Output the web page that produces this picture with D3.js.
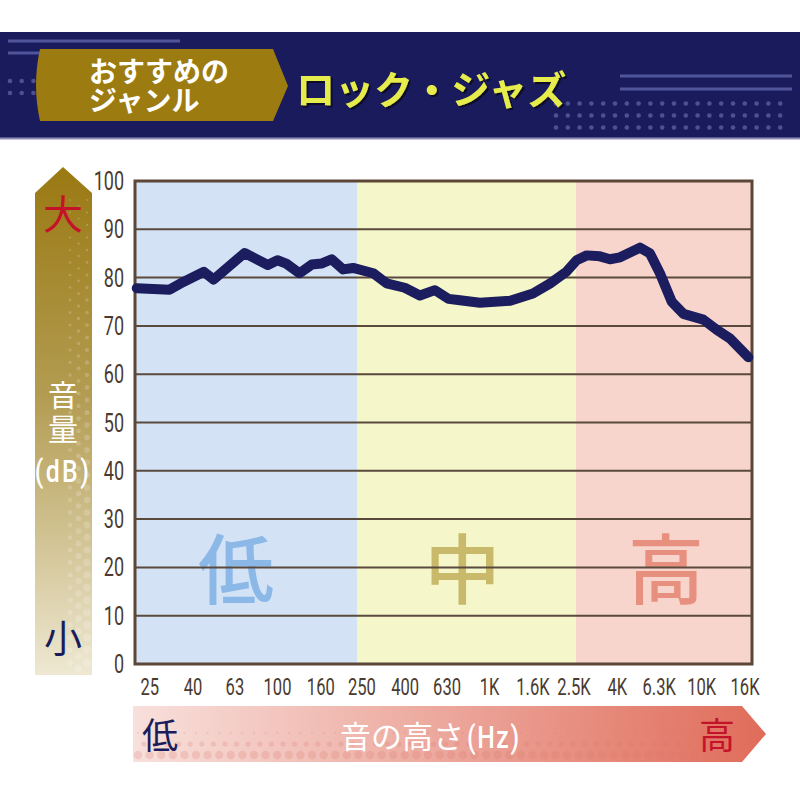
<!DOCTYPE html>
<html>
<head>
<meta charset="utf-8">
<script src="https://cdn.jsdelivr.net/npm/d3@7"></script>
<style>
  body { margin: 0; background: #fff; }
  svg { display: block; }
</style>
</head>
<body>
<script>
var freqs = [21.7, 31, 36, 45, 50, 70, 90, 100, 110, 127, 145, 161, 180, 204, 227, 283, 327, 398, 469, 552,
             640, 725, 900, 1250, 1600, 1930, 2300, 2570, 2870, 3310, 3690, 4120, 5110, 5700, 6350, 7220,
             8190, 10170, 11760, 13590, 16580];
var levels = [77.8, 77.5, 79.1, 81.2, 79.6, 85.1, 82.6, 83.6, 82.9, 80.9, 82.7, 82.9, 83.8, 81.7, 82.0, 80.9,
              78.8, 77.9, 76.3, 77.4, 75.6, 75.3, 74.8, 75.2, 76.7, 78.8, 81.2, 83.6, 84.6, 84.4, 83.8, 84.2,
              86.2, 85.0, 80.9, 75.0, 72.5, 71.3, 69.2, 67.4, 63.5];

//axis ticks
var xTicks = [25, 40, 63, 100, 160, 250, 400, 630, 1000, 1600, 2500, 4000, 6300, 10000, 16000];
var xTickLabels = ["25", "40", "63", "100", "160", "250", "400", "630", "1K", "1.6K", "2.5K", "4K", "6.3K", "10K", "16K"];
var yTicks = [0, 10, 20, 30, 40, 50, 60, 70, 80, 90, 100];

//frequency bands (low / mid / high)
var bandNames = ["低", "中", "高"];
var bandEdges = [21.3, 237, 2550, 17250];

//texts
var tagLines = ["おすすめの", "ジャンル"];
var genre = "ロック・ジャズ";

var width = 800, height = 800;
var jp = "'Noto Sans CJK JP', sans-serif";
var num = "Roboto, sans-serif";

var svg = d3.select("body").append("svg")
    .attr("width", width)
    .attr("height", height);

var defs = svg.append("defs");

//gradients for the two arrows
var gv = defs.append("linearGradient").attr("id", "gradV")
    .attr("x1", 0).attr("y1", 0).attr("x2", 0).attr("y2", 1);
gv.append("stop").attr("offset", "0%").attr("stop-color", "#9a7912");
gv.append("stop").attr("offset", "45%").attr("stop-color", "#b39c52");
gv.append("stop").attr("offset", "100%").attr("stop-color", "#eee8d2");

var gh = defs.append("linearGradient").attr("id", "gradH")
    .attr("x1", 0).attr("y1", 0).attr("x2", 1).attr("y2", 0);
gh.append("stop").attr("offset", "0%").attr("stop-color", "#f8e0dc");
gh.append("stop").attr("offset", "100%").attr("stop-color", "#e06c5a");

//dark shadow behind the genre title
defs.append("filter").attr("id", "shadow")
    .attr("x", "-5%").attr("y", "-10%").attr("width", "115%").attr("height", "130%")
  .append("feDropShadow")
    .attr("dx", 2).attr("dy", 2).attr("stdDeviation", 0.4)
    .attr("flood-color", "#08082a").attr("flood-opacity", 1);

drawHeader();
drawChart();

function drawHeader(){
  var g = svg.append("g").attr("class", "header");

  g.append("rect")
      .attr("x", 0).attr("y", 32)
      .attr("width", width).attr("height", 107)
      .attr("fill", "#1a1b5c");
  g.append("rect")
      .attr("x", 0).attr("y", 137.5)
      .attr("width", width).attr("height", 2)
      .attr("fill", "#8e8fb8");

  //decorative stripes
  var stripes = [[8, 180, 41], [8, 60, 53], [620, 792, 76], [620, 792, 89]];
  g.selectAll(".stripe")
      .data(stripes)
      .enter()
      .append("line")
      .attr("class", "stripe")
      .attr("x1", function(d){ return d[0]; })
      .attr("x2", function(d){ return d[1]; })
      .attr("y1", function(d){ return d[2]; })
      .attr("y2", function(d){ return d[2]; })
      .attr("stroke", "#50549a")
      .attr("stroke-width", 3);

  //decorative dots
  var dots = [];
  [81, 93].forEach(function(y){
    d3.range(3).forEach(function(i){ dots.push([10 + i * 11.7, y]); });
  });
  [103.5, 115.5, 127.5].forEach(function(y){
    d3.range(20).forEach(function(i){ dots.push([556 + i * 11.8, y]); });
  });
  g.selectAll(".dot")
      .data(dots)
      .enter()
      .append("circle")
      .attr("class", "dot")
      .attr("cx", function(d){ return d[0]; })
      .attr("cy", function(d){ return d[1]; })
      .attr("r", 2.3)
      .attr("fill", "#4d5191");

  //gold tag
  g.append("path")
      .attr("d", "M40,49 L273,49 L288,86 L273,121 L40,121 Q32,85 40,49 Z")
      .attr("fill", "#9c7c10");

  //two-line tag as one text block
  g.append("text")
      .attr("class", "tag")
      .attr("font-family", jp)
      .attr("font-weight", "bold")
      .attr("font-size", 28)
      .attr("fill", "#fff")
    .selectAll("tspan")
      .data(tagLines)
      .enter()
      .append("tspan")
      .attr("x", 89)
      .attr("y", function(d, i){ return 82 + i * 29; })
      .text(function(d){ return d; });

  g.append("text")
      .attr("x", 296).attr("y", 104)
      .attr("font-family", jp).attr("font-weight", "bold").attr("font-size", 39)
      .attr("fill", "#e6ec4c")
      .attr("filter", "url(#shadow)")
      .text(genre);
}

function drawChart(){
  var x = d3.scaleLog()
      .domain([bandEdges[0], bandEdges[3]])
      .range([135, 752]);
  var y = d3.scaleLinear()
      .domain([0, 100])
      .range([664, 181]);

  var bandFill = d3.scaleOrdinal().domain(bandNames).range(["#d3e3f5", "#f5f7cb", "#f7d5cd"]);
  var bandInk = d3.scaleOrdinal().domain(bandNames).range(["#8cb8e8", "#c9b96a", "#e8907f"]);

  //left arrow (volume)
  var la = svg.append("g").attr("class", "leftArrow");
  la.append("path")
      .attr("d", "M35,193 L63,167 L92,193 L92,675 L35,675 Z")
      .attr("fill", "url(#gradV)");
  var ldots = [];
  d3.range(38).forEach(function(r){
    d3.range(3).forEach(function(c){
      var yy = 200 + r * 12.5 + (c % 2) * 6;
      ldots.push([70 + c * 8.5, yy, 1 + 3.2 * (r / 38) * (0.6 + c * 0.25)]);
    });
  });
  la.selectAll(".ldot")
      .data(ldots)
      .enter()
      .append("circle")
      .attr("cx", function(d){ return d[0]; })
      .attr("cy", function(d){ return d[1]; })
      .attr("r", function(d){ return d[2]; })
      .attr("fill", "#fff")
      .attr("opacity", 0.18);
  la.append("text")
      .attr("x", 63).attr("y", 229)
      .attr("text-anchor", "middle")
      .attr("font-family", jp).attr("font-size", 40)
      .attr("fill", "#c4122a")
      .text("大");
  la.append("text")
      .attr("x", 63).attr("y", 652)
      .attr("text-anchor", "middle")
      .attr("font-family", jp).attr("font-size", 38)
      .attr("fill", "#1a1d5c")
      .text("小");
  la.append("text")
      .attr("text-anchor", "middle")
      .attr("font-family", jp).attr("font-size", 30)
      .attr("fill", "#fff")
    .selectAll("tspan")
      .data(["音", "量"])
      .enter()
      .append("tspan")
      .attr("x", 63)
      .attr("y", function(d, i){ return 406 + i * 34; })
      .text(function(d){ return d; });
  la.append("text")
      .attr("transform", "translate(63,482) scale(0.8,1)")
      .attr("text-anchor", "middle")
      .attr("font-family", num).attr("font-size", 31).attr("font-weight", 500)
      .attr("letter-spacing", 3)
      .attr("fill", "#fff")
      .text("(dB)");

  //bands
  var bands = bandNames.map(function(n, i){ return { name: n, x0: bandEdges[i], x1: bandEdges[i + 1] }; });
  svg.selectAll(".band")
      .data(bands)
      .enter()
      .append("rect")
      .attr("class", "band")
      .attr("x", function(d){ return x(d.x0); })
      .attr("width", function(d){ return x(d.x1) - x(d.x0); })
      .attr("y", y(100))
      .attr("height", y(0) - y(100))
      .attr("fill", function(d){ return bandFill(d.name); });

  svg.selectAll(".bandLabel")
      .data(bands)
      .enter()
      .append("text")
      .attr("class", "bandLabel")
      .attr("x", function(d){ return (x(d.x0) + x(d.x1)) / 2 + (d.name == "低" ? -10 : (d.name == "高" ? 2 : -4)); })
      .attr("y", 598)
      .attr("text-anchor", "middle")
      .attr("font-family", jp)
      .attr("font-weight", 500)
      .attr("font-size", 76)
      .attr("fill", function(d){ return bandInk(d.name); })
      .text(function(d){ return d.name; });

  //gridlines
  svg.selectAll(".grid")
      .data(yTicks.slice(1, -1))
      .enter()
      .append("line")
      .attr("class", "grid")
      .attr("x1", x.range()[0]).attr("x2", x.range()[1])
      .attr("y1", function(d){ return y(d); })
      .attr("y2", function(d){ return y(d); })
      .attr("stroke", "#5a4a3e")
      .attr("stroke-width", 2);

  //frame
  svg.append("rect")
      .attr("x", x.range()[0]).attr("y", y(100))
      .attr("width", x.range()[1] - x.range()[0])
      .attr("height", y(0) - y(100))
      .attr("fill", "none")
      .attr("stroke", "#5b4637")
      .attr("stroke-width", 3);

  //y tick labels
  svg.selectAll(".ylab")
      .data(yTicks)
      .enter()
      .append("text")
      .attr("class", "ylab")
      .attr("transform", function(d){ return "translate(124," + (y(d) + 9) + ") scale(0.72,1)"; })
      .attr("text-anchor", "end")
      .attr("font-family", num)
      .attr("font-size", 25)
      .attr("fill", "#4a3a30")
      .text(function(d){ return d; });

  //x tick labels
  svg.selectAll(".xlab")
      .data(xTicks)
      .enter()
      .append("text")
      .attr("class", "xlab")
      .attr("transform", function(d){ return "translate(" + x(d) + ",695) scale(0.72,1)"; })
      .attr("text-anchor", "middle")
      .attr("font-family", num)
      .attr("font-size", 23)
      .attr("fill", "#4a3a30")
      .text(function(d, i){ return xTickLabels[i]; });

  //response line
  var line = d3.line()
      .x(function(d){ return x(d[0]); })
      .y(function(d){ return y(d[1]); });
  svg.append("path")
      .datum(d3.zip(freqs, levels))
      .attr("class", "response")
      .attr("d", line)
      .attr("fill", "none")
      .attr("stroke", "#1b1d5e")
      .attr("stroke-width", 10)
      .attr("stroke-linejoin", "round")
      .attr("stroke-linecap", "round");

  //bottom arrow (pitch)
  var ba = svg.append("g").attr("class", "bottomArrow");
  ba.append("path")
      .attr("d", "M133,706 L742,706 L766,734 L742,762 L133,762 Z")
      .attr("fill", "url(#gradH)");
  var bdots = [];
  d3.range(3).forEach(function(r){
    d3.range(52).forEach(function(c){
      bdots.push([138 + c * 11.6 + (r % 2) * 5.8, 733 + r * 11, 1 + r * 1.6]);
    });
  });
  ba.selectAll(".bdot")
      .data(bdots.filter(function(d){ return d[0] < 740; }))
      .enter()
      .append("circle")
      .attr("cx", function(d){ return d[0]; })
      .attr("cy", function(d){ return d[1]; })
      .attr("r", function(d){ return d[2]; })
      .attr("fill", "#d9786a")
      .attr("opacity", 0.22);
  ba.append("text")
      .attr("x", 160).attr("y", 749)
      .attr("text-anchor", "middle")
      .attr("font-family", jp).attr("font-size", 36)
      .attr("fill", "#1a1d5c")
      .text("低");
  ba.append("text")
      .attr("x", 717).attr("y", 749)
      .attr("text-anchor", "middle")
      .attr("font-family", jp).attr("font-size", 36)
      .attr("fill", "#c4122a")
      .text("高");
  ba.append("text")
      .attr("x", 340).attr("y", 748)
      .attr("font-family", jp).attr("font-size", 31)
      .attr("fill", "#fff")
      .text("音の高さ");
  ba.append("text")
      .attr("transform", "translate(467,748) scale(0.8,1)")
      .attr("font-family", num).attr("font-size", 31).attr("font-weight", 500)
      .attr("letter-spacing", 2)
      .attr("fill", "#fff")
      .text("(Hz)");
}
</script>
</body>
</html>
